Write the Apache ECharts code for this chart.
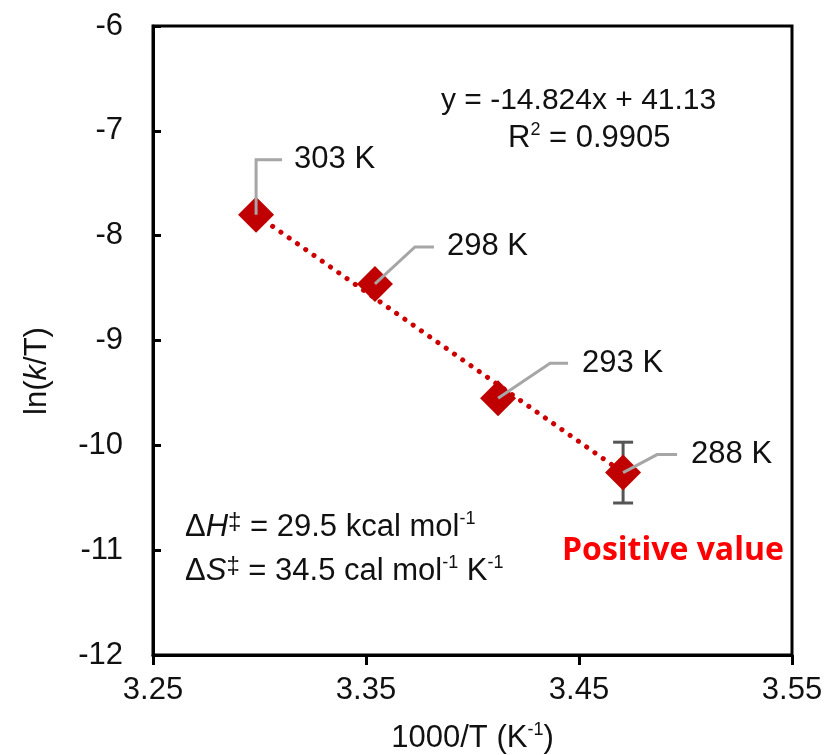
<!DOCTYPE html>
<html>
<head>
<meta charset="utf-8">
<script src="https://cdn.jsdelivr.net/npm/echarts@6/dist/echarts.min.js"></script>
<style>html,body{margin:0;padding:0;background:#fff;}#c{width:830px;height:755px;}</style>
</head>
<body>
<div id="c"></div>
<script>
// ---- data ----
var tempLabels = ['303 K', '298 K', '293 K', '288 K'];
var invT = [3.2984, 3.3542, 3.4120, 3.4707];
var lnkT = [-7.80, -8.46, -9.55, -10.26];
var errPlus = [0, 0, 0, 0.29];
var trendX = [3.2984, 3.4707];
var trendY = [-7.80, -10.26];
var xTicks = [3.25, 3.35, 3.45, 3.55];
var yTicks = [-6, -7, -8, -9, -10, -11, -12];
var equationText = 'y = -14.824x + 41.13';
var r2Text = '0.9905';
var dHText = '29.5 kcal mol';
var dSText = '34.5 cal mol';
var noteText = 'Positive value';

// leader line geometry (pixel offsets from the point): elbow, end, text start
var leaders = [
  {ex: 0, ey: -55, lx: 26, tx: 38},
  {ex: 40, ey: -37, lx: 59, tx: 72},
  {ex: 52, ey: -35, lx: 70, tx: 84},
  {ex: 34, ey: -18, lx: 54, tx: 68}
];

var FONT = '"Liberation Sans", Arial, sans-serif';
var FS = 31;
var chart = echarts.init(document.getElementById('c'), null, {renderer: 'canvas'});

var pts = invT.map(function (x, i) { return [x, lnkT[i]]; });
var errData = invT.map(function (x, i) { return [x, lnkT[i], errPlus[i]]; });
var labelData = invT.map(function (x, i) { return [x, lnkT[i], i]; });
var trendData = trendX.map(function (x, i) { return [x, trendY[i]]; });

var richBase = {
  a: {fontSize: FS, fill: '#111', color: '#111', fontFamily: FONT, lineHeight: 34},
  i: {fontSize: FS, fill: '#111', color: '#111', fontFamily: FONT, fontStyle: 'italic', lineHeight: 34},
  s: {fontSize: 18, fill: '#111', color: '#111', fontFamily: FONT, verticalAlign: 'top', lineHeight: 34},
  d: {fontSize: 24, fill: '#111', color: '#111', fontFamily: FONT, verticalAlign: 'top', lineHeight: 34}
};

var option = {
  animation: false,
  backgroundColor: '#ffffff',
  grid: {left: 153, right: 38, top: 26, bottom: 100, show: true, borderColor: '#000', borderWidth: 3,
    containLabel: false, outerBoundsMode: 'none'},
  xAxis: {
    type: 'value', min: 3.25, max: 3.55, interval: 0.1,
    position: 'bottom',
    axisLine: {show: true, lineStyle: {color: '#000', width: 3}},
    axisTick: {show: true, inside: false, length: 10, lineStyle: {color: '#000', width: 3}},
    axisLabel: {fontSize: FS, color: '#111', fontFamily: FONT, margin: 20,
      formatter: function (v) { return v.toFixed(2); }},
    splitLine: {show: false},
    name: '{a|1000/T (K}{s|-1}{a|)}',
    nameLocation: 'middle', nameGap: 66,
    nameTextStyle: {rich: richBase}
  },
  yAxis: {
    type: 'value', min: -12, max: -6, interval: 1,
    axisLine: {show: true, onZero: false, lineStyle: {color: '#000', width: 3}},
    axisTick: {show: true, inside: true, length: 8, lineStyle: {color: '#000', width: 3}},
    axisLabel: {fontSize: FS, color: '#111', fontFamily: FONT, margin: 30},
    splitLine: {show: false}
  },
  graphic: [
    {type: 'text', x: 37, y: 371, rotation: Math.PI / 2, style: {
      text: '{a|ln(}{i|k}{a|/T)}', align: 'center', verticalAlign: 'middle', rich: richBase
    }},
    {type: 'text', x: 441, y: 101, style: {text: equationText, fontSize: 30, fill: '#111', fontFamily: FONT, verticalAlign: 'middle'}},
    {type: 'text', x: 508, y: 138, style: {
      text: '{a|R}{s|2}{a| = ' + r2Text + '}', verticalAlign: 'middle', rich: richBase
    }},
    {type: 'text', x: 185, y: 527, style: {
      text: '{a|Δ}{i|H}{d|‡}{a| = ' + dHText + '}{s|-1}', verticalAlign: 'middle', rich: richBase
    }},
    {type: 'text', x: 185, y: 571, style: {
      text: '{a|Δ}{i|S}{d|‡}{a| = ' + dSText + '}{s|-1}{a| K}{s|-1}', verticalAlign: 'middle', rich: richBase
    }},
    {type: 'text', x: 562, y: 551, style: {text: noteText, fontSize: 32, fontWeight: 'bold', fill: '#ff0000', fontFamily: '"Open Sans", "Noto Sans", sans-serif', verticalAlign: 'middle'}}
  ],
  series: [
    {
      type: 'line', data: trendData, symbol: 'none', z: 2,
      lineStyle: {color: '#cc0000', width: 5, type: [0.1, 10], cap: 'round'}
    },
    {
      type: 'custom', z: 3, data: errData,
      renderItem: function (params, api) {
        var x = api.value(0), y = api.value(1), e = api.value(2);
        if (!e) return null;
        var top = api.coord([x, y + e]);
        var bot = api.coord([x, y - e]);
        var st = {stroke: '#555', lineWidth: 3};
        return {type: 'group', children: [
          {type: 'line', shape: {x1: top[0], y1: top[1], x2: bot[0], y2: bot[1]}, style: st},
          {type: 'line', shape: {x1: top[0] - 10, y1: top[1], x2: top[0] + 10, y2: top[1]}, style: st},
          {type: 'line', shape: {x1: bot[0] - 10, y1: bot[1], x2: bot[0] + 10, y2: bot[1]}, style: st}
        ]};
      }
    },
    {
      type: 'scatter', data: pts, symbol: 'diamond', symbolSize: [36, 36], z: 4,
      itemStyle: {color: '#c00000', opacity: 1}
    },
    {
      type: 'custom', z: 5, data: labelData,
      renderItem: function (params, api) {
        var i = api.value(2);
        var p = api.coord([api.value(0), api.value(1)]);
        var L = leaders[i];
        return {type: 'group', children: [
          {type: 'polyline', shape: {points: [[p[0], p[1]], [p[0] + L.ex, p[1] + L.ey], [p[0] + L.lx, p[1] + L.ey]]},
            style: {stroke: '#a6a6a6', lineWidth: 3, fill: null}},
          {type: 'text', x: p[0] + L.tx, y: p[1] + L.ey,
            style: {text: tempLabels[i], fontSize: FS, fill: '#111', fontFamily: FONT, verticalAlign: 'middle'}}
        ]};
      }
    }
  ]
};
chart.setOption(option);
</script>
</body>
</html>
